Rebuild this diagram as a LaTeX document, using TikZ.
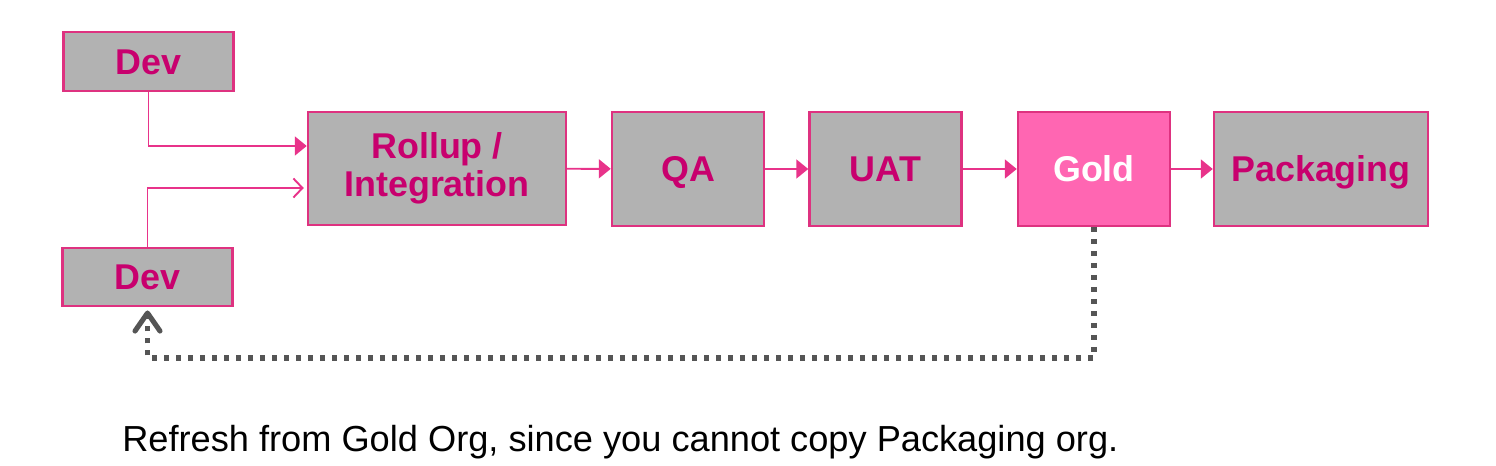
\documentclass[tikz,border=0pt]{standalone}
\usepackage{fontspec}
\setmainfont{Liberation Sans}
\usepackage{tikz}
\usetikzlibrary{positioning,arrows.meta}
\definecolor{boxgray}{RGB}{178,178,178}
\definecolor{boxedge}{RGB}{222,50,128}
\definecolor{flowpink}{RGB}{232,51,138}
\definecolor{labelpink}{RGB}{200,0,110}
\definecolor{goldfill}{RGB}{255,102,178}
\definecolor{refreshgray}{RGB}{85,85,85}

\begin{document}
\begin{tikzpicture}[
    stage/.style={draw=boxedge, line width=1.4pt, fill=boxgray, inner sep=0pt,
      minimum height=2.27cm, text=labelpink, align=center,
      text height=0.52cm, text depth=0pt,
      font=\fontsize{20.4}{21.5}\selectfont\bfseries},
    devbox/.style={stage, minimum height=1.17cm, minimum width=3.4cm},
    flow/.style={flowpink, line width=1.1pt, -{Triangle[length=0.24cm, width=0.38cm]}},
    refresh/.style={refreshgray, line width=2.9pt, dash pattern=on 0.1cm off 0.14cm,
      -{Straight Barb[length=0.36cm, width=0.5cm, line cap=round, line join=round]}}
  ]
  \useasboundingbox (0,0) rectangle (29.92,9.32);

  % Stages
  \node[devbox] (dev1) at (2.97,8.09) {Dev};
  \node[devbox] (dev2) at (2.95,3.78) {Dev};
  \node[stage, minimum width=5.16cm, text height={}, text depth={}] (rollup)
    at (8.74,5.95) {Rollup /\\Integration};
  \node[stage, minimum width=3.04cm] (qa) at (13.76,5.94) {QA};
  \node[stage, minimum width=3.04cm] (uat) at (17.71,5.94) {UAT};
  \node[stage, minimum width=3.04cm, fill=goldfill, text=white] (gold) at (21.88,5.94) {Gold};
  \node[stage, minimum width=4.28cm] (pack) at (26.42,5.94) {Packaging};

  % Merge into rollup
  \draw[flow] (dev1.south) |- ([yshift=0.45cm]rollup.west);
  \draw[flowpink, line width=1.1pt, -{Straight Barb[length=0.18cm, width=0.38cm]}]
    (dev2.north) |- ([yshift=-0.39cm, xshift=-0.06cm]rollup.west);

  % Promotion chain
  \draw[flow] (rollup) -- (qa);
  \draw[flow] (qa) -- (uat);
  \draw[flow] (uat) -- (gold);
  \draw[flow] (gold) -- (pack);

  % Refresh back to dev
  \coordinate (turn) at ([yshift=-2.62cm]gold.south);
  \draw[refresh, shorten >=0.06cm] (gold.south) -- (turn) -| (dev2.south);

  \node[anchor=base west, inner sep=0pt, font=\fontsize{20.6}{23}\selectfont] (note)
    at (2.44,0.28) {Refresh from Gold Org, since you cannot copy Packaging org.};
\end{tikzpicture}
\end{document}
